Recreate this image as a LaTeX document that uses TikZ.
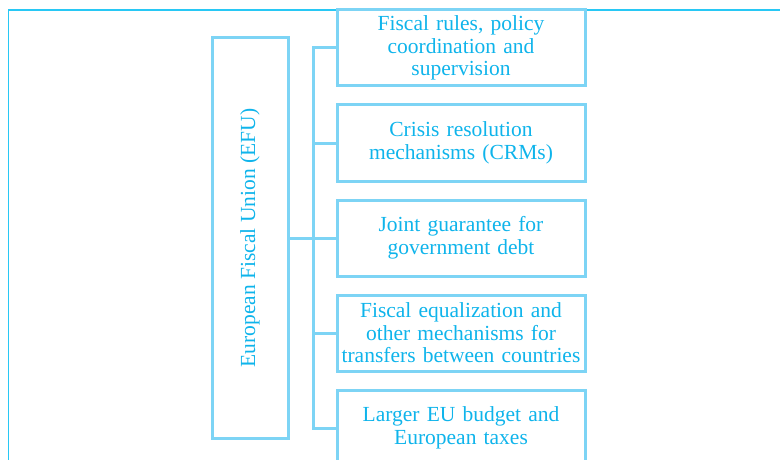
\documentclass[tikz,border=0pt]{standalone}
\usepackage{fontspec}
\setmainfont{Liberation Serif}
\usetikzlibrary{positioning}

\definecolor{efuline}{RGB}{125,212,245}
\definecolor{efutext}{RGB}{15,180,235}
\definecolor{efuframe}{RGB}{40,200,245}

\tikzset{
  pillar/.style={draw=efuline,line width=3pt,text=efutext,align=center,
    minimum width=248pt,minimum height=76pt,text width=246pt,inner sep=0pt,
    font=\fontsize{21.5}{22.5}\selectfont},
  link/.style={draw=efuline,line width=3pt},
}

\begin{document}
\begin{tikzpicture}[x=1pt,y=-1pt]
\useasboundingbox (0,0) rectangle (780,460);
\clip (0,0) rectangle (780,460);
% frame
\draw[efuframe,line width=1.2pt] (8.5,10) rectangle (800,480);
% left box
\node[draw=efuline,line width=3pt,minimum width=76pt,minimum height=400pt,inner sep=0pt] (efu) at (250,238) {};
\node[rotate=90,text=efutext,font=\fontsize{21.5}{22.5}\selectfont] (efulabel) at (efu.center) {European Fiscal Union (EFU)};
% pillars
\node[pillar] (fiscal) at (461,48) {Fiscal rules, policy\\coordination and\\supervision};
\node[pillar] (crisis) at (461,143) {Crisis resolution\\mechanisms (CRMs)};
\node[pillar] (debt) at (461,238) {Joint guarantee for\\government debt};
\node[pillar] (transfer) at (461,333) {Fiscal equalization and\\other mechanisms for\\transfers between countries};
\node[pillar] (budget) at (461,428) {Larger EU budget and\\European taxes};
% connectors
\coordinate (bus) at (313,238);
\draw[link] (efu.east) -- (debt.west);
\draw[link] (fiscal.west) -| (bus) |- (budget.west);
\draw[link] (crisis.west) -- (crisis.west -| bus);
\draw[link] (transfer.west) -- (transfer.west -| bus);
\end{tikzpicture}
\end{document}
